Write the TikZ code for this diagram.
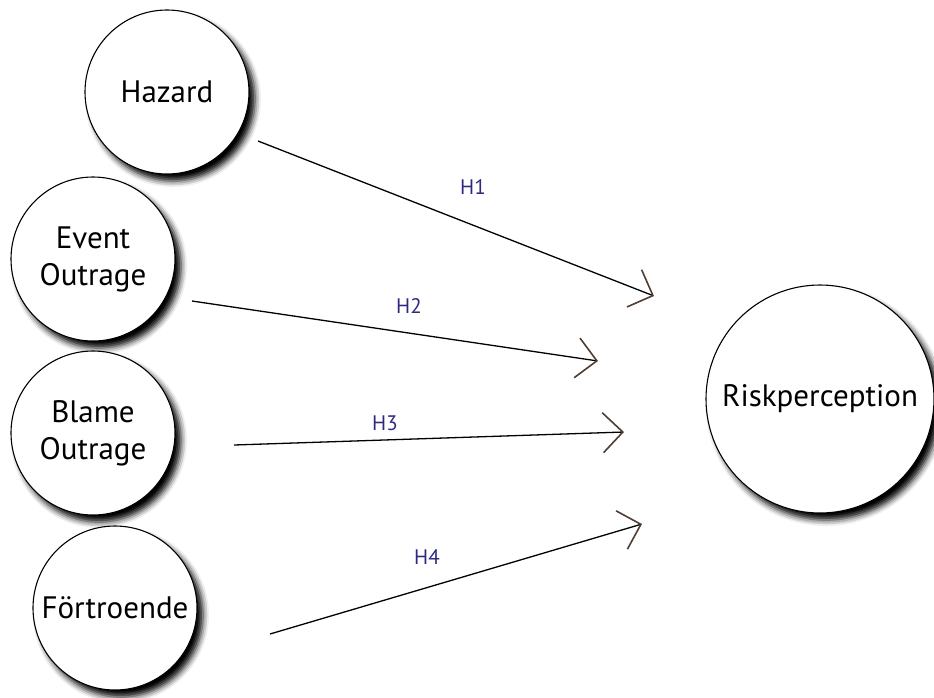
\documentclass[tikz,border=0pt]{standalone}
\usepackage{fontspec}
\setmainfont{PT Sans}
\usetikzlibrary{arrows.meta,shadows.blur}
\definecolor{barb}{RGB}{80,62,50}
\definecolor{hypcol}{RGB}{46,40,130}
\begin{document}
\begin{tikzpicture}[x=1pt,y=-1pt,
  bubble/.style={circle, draw=black, line width=1.1pt, fill=white, align=center, inner sep=0pt,
    font=\fontsize{31}{37}\selectfont,
    blur shadow={shadow xshift=6pt, shadow yshift=-7pt, shadow blur radius=6pt, shadow opacity=100}},
  link/.style={line width=1.3pt, -{Straight Barb[length=20pt,width=40pt,line width=1.6pt,color=barb]}},
  hyp/.style={text=hypcol, font=\fontsize{21}{24}\selectfont}]
\useasboundingbox (0,0) rectangle (934,697);
\node[bubble, minimum size=164pt] (hazard) at (167,92) {Hazard};
\node[bubble, minimum size=164pt] (event) at (93,259) {Event\\Outrage};
\node[bubble, minimum size=164pt] (blame) at (93,433) {Blame\\Outrage};
\node[bubble, minimum size=164pt] (fort) at (115,608) {Förtroende};
\node[bubble, minimum size=228pt] (risk) at (820,399) {Riskperception};
\coordinate (s1) at (258,141); \coordinate (t1) at (654,296);
\coordinate (s2) at (192,301); \coordinate (t2) at (598,361);
\coordinate (s3) at (234,445); \coordinate (t3) at (624,432);
\coordinate (s4) at (270,634); \coordinate (t4) at (642,524);
\draw[link] (s1) -- (t1);
\draw[link] (s2) -- (t2);
\draw[link] (s3) -- (t3);
\draw[link] (s4) -- (t4);
\node[hyp] (h1) at (473,187) {H1};
\node[hyp] (h2) at (409,306) {H2};
\node[hyp] (h3) at (385,423) {H3};
\node[hyp] (h4) at (427,557) {H4};
\end{tikzpicture}
\end{document}
